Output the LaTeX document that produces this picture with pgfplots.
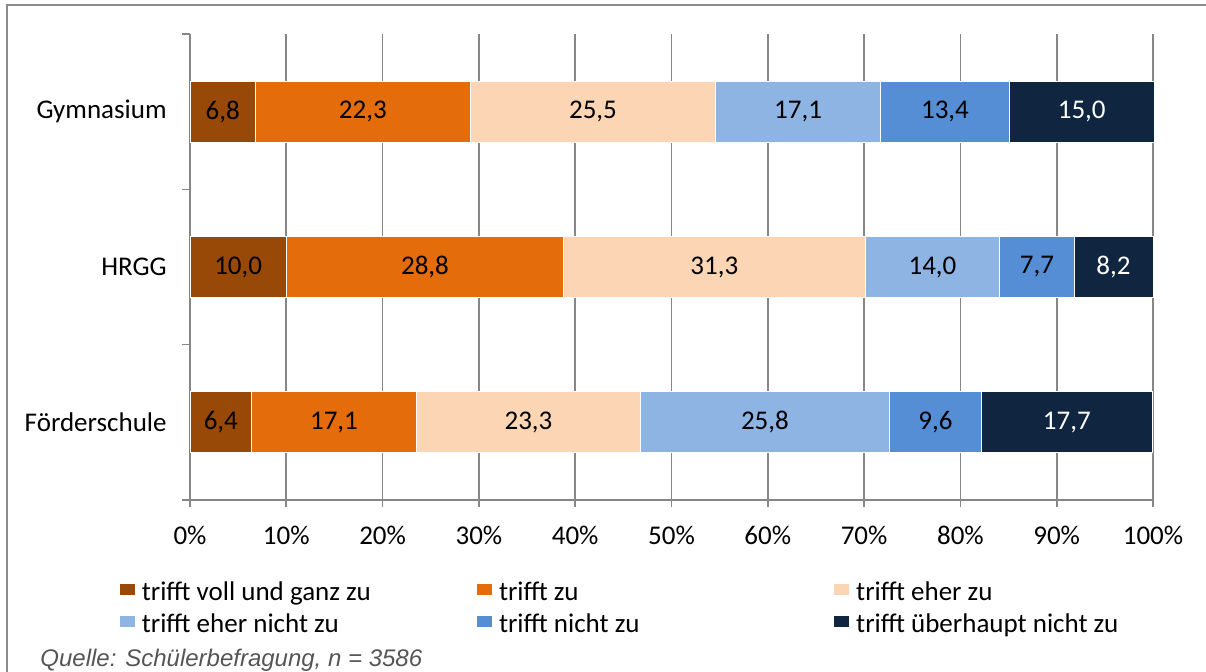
\documentclass[border=0pt]{standalone}
\usepackage{pgfplots}
\pgfplotsset{compat=1.18}
\usepackage{pgfplotstable}
\usepackage{fontspec}
\setmainfont{Carlito}
\newfontfamily\arialfont{Liberation Sans}
\definecolor{cA}{HTML}{984807}
\definecolor{cB}{HTML}{E46C0A}
\definecolor{cC}{HTML}{FCD5B5}
\definecolor{cD}{HTML}{8EB4E3}
\definecolor{cE}{HTML}{558ED5}
\definecolor{cF}{HTML}{10253F}
\definecolor{axgray}{HTML}{868686}
\definecolor{framegray}{HTML}{8C8C8C}
\definecolor{quellegray}{HTML}{555555}
\newcommand\cf{\fontsize{13.5}{16}\selectfont}
\pgfplotsset{/pgfplots/xbar legend/.style={/pgfplots/legend image code/.code={\fill[##1,draw=none] (0pt,-3.75pt) rectangle (7.5pt,3.75pt);}}}

% y: 2 = Gymnasium, 1 = HRGG, 0 = Förderschule
\pgfplotstableread{
y v
2 6.8
1 10.0
0 6.4
}\tA
\pgfplotstableread{
y v
2 22.3
1 28.8
0 17.1
}\tB
\pgfplotstableread{
y v
2 25.5
1 31.3
0 23.3
}\tC
\pgfplotstableread{
y v
2 17.1
1 14.0
0 25.8
}\tD
\pgfplotstableread{
y v
2 13.4
1 7.7
0 9.6
}\tE
\pgfplotstableread{
y v
2 15.0
1 8.2
0 17.7
}\tF

\begin{document}
\begin{tikzpicture}[font=\cf]
\path[use as bounding box] (0,0) rectangle (603pt,336pt);
\draw[framegray, line width=0.6pt] (3.5pt,0) -- (3.5pt,333.5pt) -- (603pt,333.5pt);
\begin{axis}[
  at={(95pt,86pt)}, anchor=south west, scale only axis,
  width=481.5pt, height=233pt,
  clip=false,
  xbar stacked, bar width=30.5pt,
  xmin=0, xmax=100, ymin=-0.5, ymax=2.5,
  axis x line*=bottom, axis y line*=left,
  axis line style={axgray, line width=0.8pt},
  xtick={0,10,...,100},
  xticklabels={0\%,10\%,20\%,30\%,40\%,50\%,60\%,70\%,80\%,90\%,100\%},
  ytick={0,1,2}, yticklabels={Förderschule,HRGG,Gymnasium},
  minor ytick={-0.5,0.5,1.5,2.5},
  tick align=outside, major tick length=3.5pt, minor tick length=4pt,
  tick style={axgray, line width=0.8pt},
  major y tick style={draw=none},
  xmajorgrids, ymajorgrids=false, grid style={axgray, line width=0.8pt},
  xticklabel style={font=\cf, inner sep=0pt, anchor=north, yshift=-9.5pt},
  yticklabel style={font=\cf, inner sep=0pt, anchor=east, xshift=-8pt},
  point meta=explicit,
  nodes near coords={\pgfmathprintnumber[fixed,fixed zerofill,precision=1,use comma,assume math mode=true]{\pgfplotspointmeta}},
  every node near coord/.append style={anchor=center, font=\cf, text=black},
  every axis plot/.append style={draw=white, line width=0.4pt},
  legend columns=3,
  legend cell align=left,
  legend style={at={(-0.0737,-0.2305)}, anchor=west, draw=none, fill=none,
    inner sep=0pt, outer sep=0pt, column sep=0pt, row sep=6pt,
    nodes={inner sep=0pt, text height=9.5pt, text depth=0.5pt, anchor=west},
    /tikz/every odd column/.append style={column sep=3pt}, font=\cf},
]
\addplot[fill=cA] table[x=v, y=y, meta=v] {\tA};
\addlegendentry{\makebox[167.2pt][l]{trifft voll und ganz zu}}
\addplot[fill=cB] table[x=v, y=y, meta=v] {\tB};
\addlegendentry{\makebox[167.2pt][l]{trifft zu}}
\addplot[fill=cC] table[x=v, y=y, meta=v] {\tC};
\addlegendentry{\makebox[167.2pt][l]{trifft eher zu}}
\addplot[fill=cD] table[x=v, y=y, meta=v] {\tD};
\addlegendentry{\makebox[167.2pt][l]{trifft eher nicht zu}}
\addplot[fill=cE] table[x=v, y=y, meta=v] {\tE};
\addlegendentry{\makebox[167.2pt][l]{trifft nicht zu}}
\addplot[fill=cF, every node near coord/.append style={text=white}] table[x=v, y=y, meta=v] {\tF};
\addlegendentry{\makebox[167.2pt][l]{trifft überhaupt nicht zu}}
\end{axis}
\node[anchor=base west, inner sep=0pt, text=quellegray, font=\arialfont\itshape\fontsize{12}{14}\selectfont] at (20pt,2.5pt) {Quelle: Schülerbefragung, n = 3586};
\end{tikzpicture}
\end{document}
